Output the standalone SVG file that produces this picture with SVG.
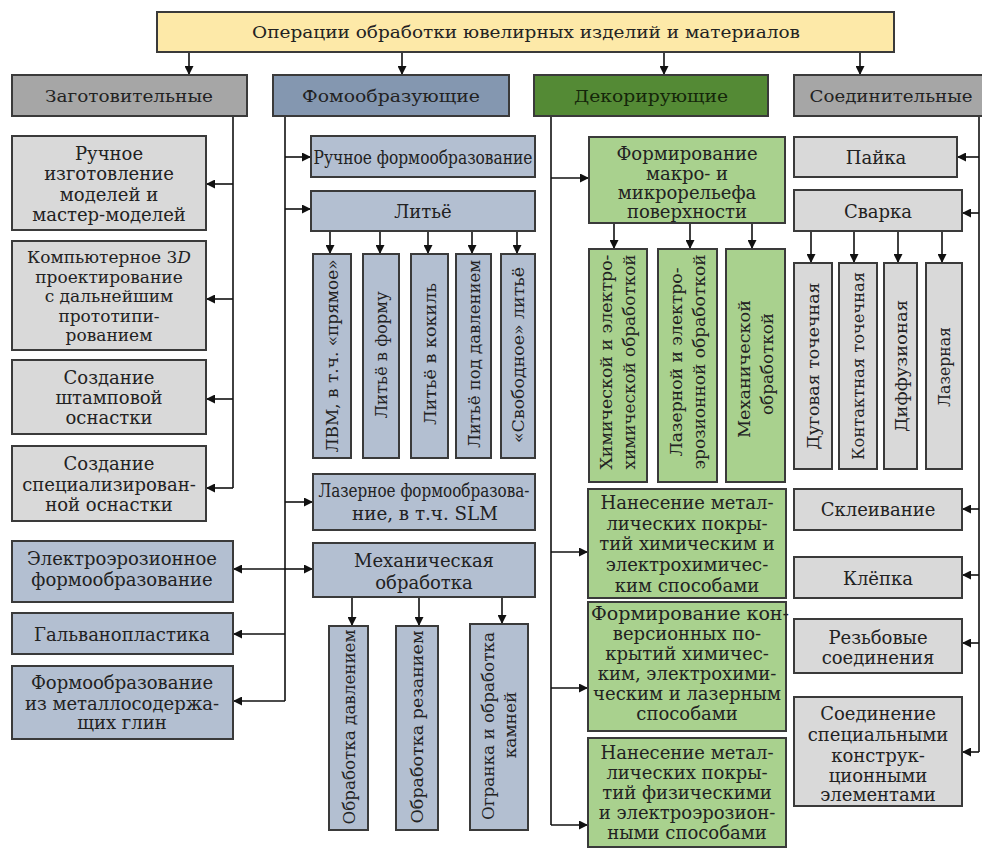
<svg xmlns="http://www.w3.org/2000/svg" width="982" height="848" viewBox="0 0 982 848">
<style>
rect{stroke:#3a3a3a;stroke-width:2}
.top{fill:#fde9a8}
.hg{fill:#a6a6a6}
.hb{fill:#8497b0}
.hgr{fill:#548a35}
.lg{fill:#d9d9d9}
.lb{fill:#b3bfd1}
.lgr{fill:#a9d18e}
text{font-family:"DejaVu Serif","Liberation Serif",serif;font-size:18px;fill:#222;text-anchor:middle;dominant-baseline:central}
.h{font-size:17px}
.v{font-size:17px}
.s{font-size:17px}
.c path{fill:none;stroke:#111;stroke-width:1.6}
</style>
<defs>
<marker id="a" viewBox="0 0 10 10" refX="10" refY="5" markerWidth="9" markerHeight="9" markerUnits="userSpaceOnUse" orient="auto"><path d="M0,0 L10,5 L0,10z" fill="#111"/></marker>
</defs>
<rect x="0" y="0" width="982" height="848" style="fill:#fff;stroke:none"/>

<g class="c" id="connectors">
<path d="M189,52 V75" marker-end="url(#a)"/>
<path d="M402,52 V75" marker-end="url(#a)"/>
<path d="M664,52 V75" marker-end="url(#a)"/>
<path d="M860,52 V75" marker-end="url(#a)"/>
<path d="M233,116 V488"/>
<path d="M233,184 H206" marker-end="url(#a)"/>
<path d="M233,299 H206" marker-end="url(#a)"/>
<path d="M233,399 H206" marker-end="url(#a)"/>
<path d="M233,488 H206" marker-end="url(#a)"/>
<path d="M285,116 V701"/>
<path d="M285,157 H311" marker-end="url(#a)"/>
<path d="M285,209 H311" marker-end="url(#a)"/>
<path d="M285,502 H313" marker-end="url(#a)"/>
<path d="M285,569 H313" marker-end="url(#a)"/>
<path d="M285,569 H233" marker-end="url(#a)"/>
<path d="M285,634 H233" marker-end="url(#a)"/>
<path d="M285,701 H233" marker-end="url(#a)"/>
<path d="M330,231 V254" marker-end="url(#a)"/>
<path d="M380,231 V254" marker-end="url(#a)"/>
<path d="M428,231 V254" marker-end="url(#a)"/>
<path d="M472,231 V254" marker-end="url(#a)"/>
<path d="M517,231 V254" marker-end="url(#a)"/>
<path d="M352,597 V626" marker-end="url(#a)"/>
<path d="M419,597 V626" marker-end="url(#a)"/>
<path d="M502,597 V624" marker-end="url(#a)"/>
<path d="M551,116 V825"/>
<path d="M551,178 H589" marker-end="url(#a)"/>
<path d="M551,552 H588" marker-end="url(#a)"/>
<path d="M551,688 H588" marker-end="url(#a)"/>
<path d="M551,825 H588" marker-end="url(#a)"/>
<path d="M614,223 V249" marker-end="url(#a)"/>
<path d="M690,223 V249" marker-end="url(#a)"/>
<path d="M752,223 V249" marker-end="url(#a)"/>
<path d="M979,116 V752"/>
<path d="M979,157 H957" marker-end="url(#a)"/>
<path d="M979,213 H962" marker-end="url(#a)"/>
<path d="M979,509 H962" marker-end="url(#a)"/>
<path d="M979,575 H962" marker-end="url(#a)"/>
<path d="M979,643 H962" marker-end="url(#a)"/>
<path d="M979,752 H962" marker-end="url(#a)"/>
<path d="M811,231 V263" marker-end="url(#a)"/>
<path d="M854,231 V263" marker-end="url(#a)"/>
<path d="M898,231 V263" marker-end="url(#a)"/>
<path d="M942,231 V263" marker-end="url(#a)"/>
</g>

<g id="root"><rect class="top" x="157" y="12" width="737" height="40"/><text class="h" x="526" y="32" textLength="548" lengthAdjust="spacingAndGlyphs">Операции обработки ювелирных изделий и материалов</text></g>

<g id="zag"><rect class="hg" x="12" y="75" width="235" height="41"/><text class="h" x="129" y="96" textLength="168" lengthAdjust="spacingAndGlyphs">Заготовительные</text></g>
<g id="z1"><rect class="lg" x="12" y="136" width="194" height="94"/><text x="109" y="153">Ручное</text><text x="109" y="173">изготовление</text><text x="109" y="194">моделей и</text><text x="109" y="214">мастер-моделей</text></g>
<g id="z2"><rect class="lg" x="12" y="241" width="194" height="109"/><text class="s" x="109" y="257">Компьютерное 3<tspan font-style="italic">D</tspan></text><text class="s" x="109" y="276.5">проектирование</text><text class="s" x="109" y="296">с дальнейшим</text><text class="s" x="109" y="315.5">прототипи-</text><text class="s" x="109" y="335">рованием</text></g>
<g id="z3"><rect class="lg" x="12" y="360" width="194" height="74"/><text x="109" y="377">Создание</text><text x="109" y="397">штамповой</text><text x="109" y="417">оснастки</text></g>
<g id="z4"><rect class="lg" x="12" y="446" width="194" height="75"/><text x="109" y="463">Создание</text><text x="109" y="484">специализирован-</text><text x="109" y="504">ной оснастки</text></g>

<g id="fom"><rect class="hb" x="273" y="75" width="236" height="41"/><text class="h" x="391" y="96" textLength="178" lengthAdjust="spacingAndGlyphs">Фомообразующие</text></g>
<g id="f1"><rect class="lb" x="311" y="136" width="224" height="41"/><text x="423" y="157" textLength="219" lengthAdjust="spacingAndGlyphs">Ручное формообразование</text></g>
<g id="f2"><rect class="lb" x="311" y="191" width="224" height="40"/><text x="423" y="211">Литьё</text></g>
<g id="f2a"><rect class="lb" x="313" y="254" width="38" height="204"/><text class="v" transform="translate(332,356) rotate(-90)" textLength="193" lengthAdjust="spacingAndGlyphs">ЛВМ, в т.ч. «прямое»</text></g>
<g id="f2b"><rect class="lb" x="363" y="254" width="36" height="204"/><text class="v" transform="translate(381,355) rotate(-90)" textLength="127" lengthAdjust="spacingAndGlyphs">Литьё в форму</text></g>
<g id="f2c"><rect class="lb" x="411" y="254" width="37" height="204"/><text class="v" transform="translate(429.5,354) rotate(-90)" textLength="142" lengthAdjust="spacingAndGlyphs">Литьё в кокиль</text></g>
<g id="f2d"><rect class="lb" x="456" y="254" width="35" height="204"/><text class="v" transform="translate(473.5,354) rotate(-90)" textLength="188" lengthAdjust="spacingAndGlyphs">Литьё под давлением</text></g>
<g id="f2e"><rect class="lb" x="501" y="254" width="34" height="204"/><text class="v" transform="translate(518,355) rotate(-90)" textLength="176" lengthAdjust="spacingAndGlyphs">«Свободное» литьё</text></g>
<g id="f3"><rect class="lb" x="313" y="474" width="222" height="56"/><text x="424" y="490" textLength="211" lengthAdjust="spacingAndGlyphs">Лазерное формообразова-</text><text x="425" y="513" textLength="146" lengthAdjust="spacingAndGlyphs">ние, в т.ч. SLM</text></g>
<g id="f4"><rect class="lb" x="313" y="543" width="222" height="54"/><text x="424" y="560">Механическая</text><text x="424" y="582">обработка</text></g>
<g id="f4a"><rect class="lb" x="329" y="626" width="39" height="204"/><text class="v" transform="translate(348.5,727) rotate(-90)" textLength="195" lengthAdjust="spacingAndGlyphs">Обработка давлением</text></g>
<g id="f4b"><rect class="lb" x="396" y="626" width="42" height="204"/><text class="v" transform="translate(417,727) rotate(-90)" textLength="193" lengthAdjust="spacingAndGlyphs">Обработка  резанием</text></g>
<g id="f4c"><rect class="lb" x="470" y="624" width="58" height="206"/><text class="v" transform="translate(488,726) rotate(-90)" textLength="188" lengthAdjust="spacingAndGlyphs">Огранка и обработка</text><text class="v" transform="translate(510,725) rotate(-90)">камней</text></g>
<g id="f5"><rect class="lb" x="12" y="541" width="221" height="61"/><text x="122" y="558">Электроэрозионное</text><text x="122" y="579">формообразование</text></g>
<g id="f6"><rect class="lb" x="12" y="613" width="221" height="41"/><text x="122" y="634">Гальванопластика</text></g>
<g id="f7"><rect class="lb" x="12" y="666" width="221" height="73"/><text x="122" y="682">Формообразование</text><text x="122" y="703">из металлосодержа-</text><text x="122" y="722">щих глин</text></g>

<g id="dek"><rect class="hgr" x="534" y="75" width="234" height="41"/><text class="h" x="651" y="96" textLength="154" lengthAdjust="spacingAndGlyphs" style="fill:#14260a">Декорирующие</text></g>
<g id="d1"><rect class="lgr" x="589" y="137" width="196" height="86"/><text x="687" y="153">Формирование</text><text x="687" y="173">макро- и</text><text x="687" y="192">микрорельефа</text><text x="687" y="211">поверхности</text></g>
<g id="d1a"><rect class="lgr" x="589" y="249" width="58" height="233"/><text class="v" transform="translate(606,362) rotate(-90)" textLength="215" lengthAdjust="spacingAndGlyphs">Химической и электро-</text><text class="v" transform="translate(629,362) rotate(-90)" textLength="215" lengthAdjust="spacingAndGlyphs">химической обработкой</text></g>
<g id="d1b"><rect class="lgr" x="658" y="249" width="59" height="233"/><text class="v" transform="translate(676,362) rotate(-90)" textLength="189" lengthAdjust="spacingAndGlyphs">Лазерной и электро-</text><text class="v" transform="translate(699,362) rotate(-90)" textLength="215" lengthAdjust="spacingAndGlyphs">эрозионной обработкой</text></g>
<g id="d1c"><rect class="lgr" x="726" y="249" width="59" height="233"/><text class="v" transform="translate(744,369) rotate(-90)" textLength="138" lengthAdjust="spacingAndGlyphs">Механической</text><text class="v" transform="translate(767,364) rotate(-90)" textLength="102" lengthAdjust="spacingAndGlyphs">обработкой</text></g>
<g id="d2"><rect class="lgr" x="588" y="489" width="198" height="109"/><text x="687" y="502">Нанесение метал-</text><text x="687" y="523">лических покры-</text><text x="687" y="543">тий химическим и</text><text x="687" y="564">электрохимичес-</text><text x="687" y="585">ким способами</text></g>
<g id="d3"><rect class="lgr" x="588" y="602" width="198" height="129"/><text x="690" y="613" textLength="198" lengthAdjust="spacingAndGlyphs">Формирование кон-</text><text x="687" y="633">версионных по-</text><text x="687" y="653">крытий химичес-</text><text x="687" y="673">ким, электрохими-</text><text x="687" y="693">ческим и лазерным</text><text x="687" y="713">способами</text></g>
<g id="d4"><rect class="lgr" x="588" y="738" width="198" height="109"/><text x="687" y="752">Нанесение метал-</text><text x="687" y="772">лических покры-</text><text x="687" y="792">тий физическими</text><text x="687" y="812">и электроэрозион-</text><text x="687" y="832">ными способами</text></g>

<g id="soe"><rect class="hg" x="794" y="75" width="200" height="41"/><text class="h" x="891" y="96" textLength="163" lengthAdjust="spacingAndGlyphs">Соединительные</text></g>
<g id="s1"><rect class="lg" x="794" y="137" width="163" height="40"/><text x="876" y="157">Пайка</text></g>
<g id="s2"><rect class="lg" x="794" y="190" width="168" height="41"/><text x="878" y="211">Сварка</text></g>
<g id="s2a"><rect class="lg" x="794" y="263" width="38" height="206"/><text class="v" transform="translate(813,366) rotate(-90)" textLength="167" lengthAdjust="spacingAndGlyphs">Дуговая точечная</text></g>
<g id="s2b"><rect class="lg" x="839" y="263" width="38" height="206"/><text class="v" transform="translate(858,366) rotate(-90)" textLength="188" lengthAdjust="spacingAndGlyphs">Контактная точечная</text></g>
<g id="s2c"><rect class="lg" x="884" y="263" width="33" height="206"/><text class="v" transform="translate(900.5,366) rotate(-90)" textLength="132" lengthAdjust="spacingAndGlyphs">Диффузионая</text></g>
<g id="s2d"><rect class="lg" x="926" y="263" width="36" height="206"/><text class="v" transform="translate(944,367) rotate(-90)" textLength="80" lengthAdjust="spacingAndGlyphs">Лазерная</text></g>
<g id="s3"><rect class="lg" x="794" y="489" width="168" height="41"/><text x="878" y="509">Склеивание</text></g>
<g id="s4"><rect class="lg" x="794" y="557" width="168" height="41"/><text x="878" y="578">Клёпка</text></g>
<g id="s5"><rect class="lg" x="794" y="619" width="168" height="54"/><text x="878" y="637">Резьбовые</text><text x="878" y="657">соединения</text></g>
<g id="s6"><rect class="lg" x="794" y="697" width="168" height="109"/><text x="878" y="713">Соединение</text><text x="878" y="734">специальными</text><text x="878" y="755">конструк-</text><text x="878" y="775">ционными</text><text x="878" y="794">элементами</text></g>
</svg>
